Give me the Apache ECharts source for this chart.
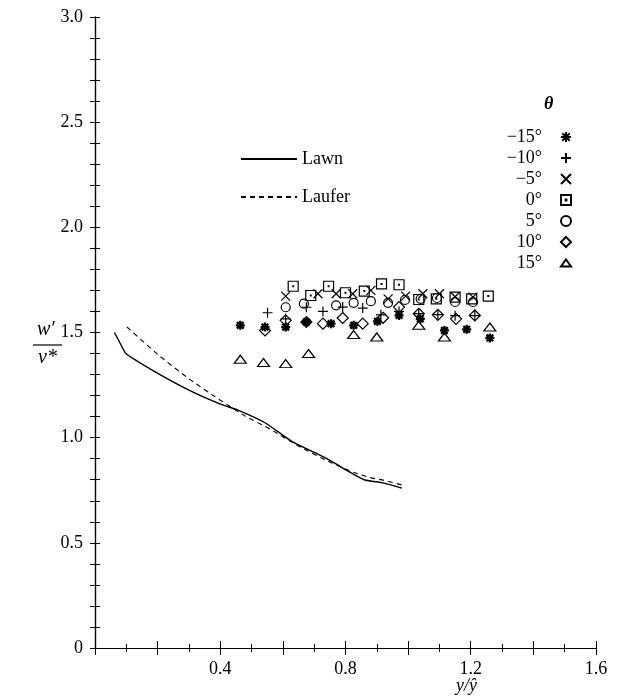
<!DOCTYPE html>
<html><head><meta charset="utf-8">
<script src="https://cdn.jsdelivr.net/npm/echarts@6/dist/echarts.min.js"></script>
<style>html,body{margin:0;padding:0;background:#fff}#c{width:641px;height:699px}</style>
</head><body><div id="c"></div>
<script>
var xTicks = [0.4, 0.8, 1.2, 1.6];
var lawn = [[0.062,1.50],[0.08,1.45],[0.099,1.40],[0.184,1.32],[0.30,1.226],[0.395,1.163],[0.458,1.13],[0.543,1.071],[0.627,0.984],[0.70,0.93],[0.754,0.889],[0.807,0.842],[0.86,0.80],[0.92,0.785],[0.98,0.76]];
var laufer = [[0.102,1.526],[0.205,1.39],[0.30,1.28],[0.384,1.194],[0.44,1.14],[0.479,1.103],[0.56,1.04],[0.65,0.96],[0.754,0.881],[0.828,0.834],[0.88,0.81],[0.923,0.797],[0.98,0.775]];
var thetaM15 = [[0.464,1.534],[0.543,1.526],[0.609,1.526],[0.675,1.55],[0.754,1.542],[0.826,1.534],[0.902,1.553],[0.971,1.581],[1.039,1.565],[1.116,1.51],[1.187,1.515],[1.261,1.474]];
var thetaM10 = [[0.551,1.594],[0.609,1.565],[0.675,1.62],[0.728,1.60],[0.791,1.621],[0.855,1.616],[0.913,1.584],[0.971,1.60],[1.034,1.59],[1.095,1.585],[1.15,1.58],[1.213,1.58]];
var thetaM5 = [[0.609,1.673],[0.712,1.684],[0.77,1.684],[0.823,1.684],[0.881,1.70],[0.936,1.66],[0.992,1.673],[1.047,1.684],[1.10,1.684],[1.15,1.67],[1.207,1.668]];
var theta0 = [[0.633,1.72],[0.689,1.676],[0.746,1.72],[0.80,1.689],[0.86,1.697],[0.915,1.731],[0.971,1.727],[1.034,1.657],[1.09,1.66],[1.15,1.668],[1.203,1.66],[1.256,1.673]];
var theta5 = [[0.609,1.62],[0.667,1.637],[0.77,1.629],[0.826,1.641],[0.881,1.649],[0.936,1.641],[0.99,1.655],[1.04,1.66],[1.092,1.664],[1.15,1.645],[1.207,1.645]];
var theta10 = [[0.543,1.51],[0.609,1.558],[0.675,1.55],[0.728,1.542],[0.791,1.569],[0.855,1.542],[0.92,1.57],[0.971,1.621],[1.034,1.589],[1.095,1.584],[1.153,1.565],[1.213,1.581]];
var theta15 = [[0.464,1.373],[0.538,1.357],[0.609,1.352],[0.682,1.40],[0.826,1.49],[0.90,1.479],[1.034,1.534],[1.116,1.479],[1.261,1.526]];
var thetaNames = ['\u221215\u00b0','\u221210\u00b0','\u22125\u00b0','0\u00b0','5\u00b0','10\u00b0','15\u00b0'];

var SERIF = '"Liberation Serif", "Times New Roman", Times, serif';
var symAst = 'path://M5,0 L5,10 M0,5 L10,5 M1.3,1.3 L8.7,8.7 M8.7,1.3 L1.3,8.7';
var symPlus = 'path://M5,0 L5,10 M0,5 L10,5';
var symX = 'path://M0,0 L10,10 M10,0 L0,10';
var symSq = 'path://M0,0 L10,0 L10,10 L0,10 Z M4.6,4.6 L5.4,4.6 L5.4,5.4 L4.6,5.4 Z';
var symCirc = 'circle';
var symDia = 'path://M5,0 L10,5 L5,10 L0,5 Z';
var symTri = 'path://M5,0 L10,7 L0,7 Z';

function sc(name, data, sym, size, bw) {
  return {type:'scatter', name:name, data:data, symbol:sym, symbolSize:size,
    itemStyle:{color:'rgba(0,0,0,0)', borderColor:'#000', borderWidth:bw, opacity:1},
    emphasis:{disabled:true}, z:3};
}

var chart = echarts.init(document.getElementById('c'), null, {renderer:'canvas'});
function xAx(pos, showLabel) {
  return {type:'value', min:0, max:1.6, interval:0.2, position:pos,
    axisLine:{show:true, lineStyle:{color:'#000', width:1.2}},
    splitLine:{show:false},
    axisTick:{show:true, inside:true, length:7, lineStyle:{color:'#000', width:1}},
    minorTick:{show:true, splitNumber:2, length:4, lineStyle:{color:'#000', width:1}},
    axisLabel:{show:showLabel, margin:12, color:'#000', fontFamily:SERIF, fontSize:18,
      formatter:function(v){ var r = Math.round(v*10)/10; return xTicks.indexOf(r) >= 0 ? r.toFixed(1) : ''; }}};
}
function yAx(pos, showLabel) {
  return {type:'value', min:0, max:3.0, interval:0.5, position:pos,
    axisLine:{show:true, lineStyle:{color:'#000', width:1.2}},
    splitLine:{show:false},
    axisTick:{show:true, inside:true, length:5, lineStyle:{color:'#000', width:1}},
    minorTick:{show:true, splitNumber:5, length:5, lineStyle:{color:'#000', width:1}},
    axisLabel:{show:showLabel, margin:12, color:'#000', fontFamily:SERIF, fontSize:18,
      formatter:function(v){ return v === 0 ? '0' : v.toFixed(1); }}};
}
chart.setOption({
  animation:false,
  backgroundColor:'#fff',
  grid:{left:95, right:45, top:17, bottom:51, containLabel:false},
  xAxis:[xAx('bottom', true), xAx('top', false)],
  yAxis:[yAx('left', true), yAx('right', false)],
  legend:[
    {orient:'vertical', left:235, top:145, itemWidth:56, itemHeight:14, itemGap:20,
     selectedMode:false,
     itemStyle:{color:'rgba(0,0,0,0)', borderWidth:0},
     textStyle:{fontFamily:SERIF, fontSize:18, color:'#000'},
     data:['Lawn','Laufer']},
    {orient:'vertical', left:489, top:123, align:'right', itemWidth:10, itemHeight:10, itemGap:3,
     selectedMode:false,
     textStyle:{fontFamily:SERIF, fontSize:18, color:'#000',
       rich:{a:{width:48, align:'right', lineHeight:16, padding:[0,14,0,0], fontFamily:SERIF, fontSize:18, color:'#000'}}},
     formatter:function(n){ return '{a|' + n + '}'; },
     data:thetaNames}
  ],
  graphic:[
    {type:'text', left:544, top:95, style:{text:'\u03b8', fontFamily:SERIF, fontStyle:'italic', fontWeight:'bold', fontSize:18, fill:'#000'}},
    {type:'text', left:37, top:320, style:{text:'w\u2032', fontFamily:SERIF, fontStyle:'italic', fontSize:20, fill:'#000'}},
    {type:'line', shape:{x1:33, y1:345, x2:62, y2:345}, style:{stroke:'#000', lineWidth:1.2}},
    {type:'text', left:38, top:348, style:{text:'v*', fontFamily:SERIF, fontStyle:'italic', fontSize:20, fill:'#000'}},
    {type:'text', left:456, top:677, style:{text:'y/\u0177', fontFamily:SERIF, fontStyle:'italic', fontSize:18, fill:'#000'}}
  ],
  series:[
    {type:'line', name:'Lawn', data:lawn, symbol:'none', smooth:0.2, lineStyle:{color:'#000', width:1.4, type:'solid'}, itemStyle:{color:'#000'}, z:2},
    {type:'line', name:'Laufer', data:laufer, symbol:'none', smooth:0.2, lineStyle:{color:'#000', width:1.1, type:[5,4]}, itemStyle:{color:'#000'}, z:2},
    sc(thetaNames[0], thetaM15, symAst, 9, 2.3),
    sc(thetaNames[1], thetaM10, symPlus, 10, 1.2),
    sc(thetaNames[2], thetaM5, symX, 9, 1.2),
    sc(thetaNames[3], theta0, symSq, 10, 1.2),
    sc(thetaNames[4], theta5, symCirc, 9, 1.2),
    sc(thetaNames[5], theta10, symDia, 11, 1.2),
    sc(thetaNames[6], theta15, symTri, [12,8], 1.2)
  ]
});
</script></body></html>
